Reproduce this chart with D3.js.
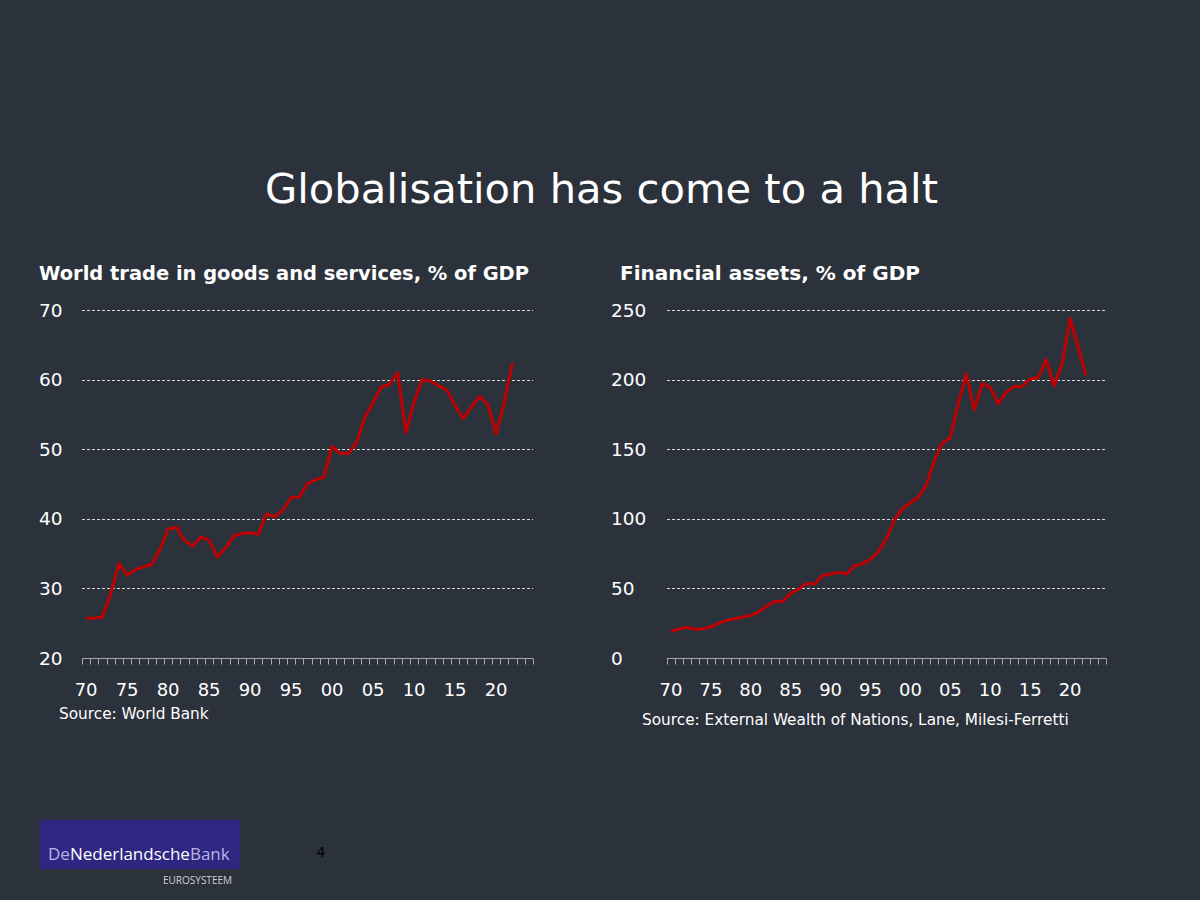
<!DOCTYPE html>
<html>
<head>
<meta charset="utf-8">
<script src="https://cdn.jsdelivr.net/npm/d3@7"></script>
<style>
  html, body { margin: 0; padding: 0; background: #2c323c; }
  svg { display: block; font-family: "DejaVu Sans", Verdana, sans-serif; }
</style>
</head>
<body>
<svg id="slide" width="1200" height="900"></svg>
<script>
// years on the category axis (Excel style, 1970-2024)
const years = d3.range(1970, 2025);
const yearLabels = ['70', '75', '80', '85', '90', '95', '00', '05', '10', '15', '20'];

// world trade in goods and services, % of GDP (1970-2022)
const tradeValues = [
  25.7, 25.7, 25.9, 29.2, 33.6, 31.9, 32.7, 33.1, 33.4, 35.6,
  38.5, 38.8, 36.9, 36.1, 37.4, 36.9, 34.5, 35.8, 37.5, 37.9,
  38.0, 37.8, 40.7, 40.3, 41.2, 43.1, 43.1, 45.1, 45.6, 46.0,
  50.4, 49.4, 49.4, 51.0, 54.6, 56.7, 58.9, 59.3, 61.0, 52.4,
  56.8, 60.0, 59.8, 59.1, 58.5, 56.3, 54.4, 56.1, 57.6, 56.4,
  52.2, 56.8, 62.4
];

// financial assets, % of GDP (1970-2022)
const assetValues = [
  18.9, 20.8, 22.0, 20.6, 21.0, 22.5, 25.1, 27.0, 28.2, 29.4,
  30.6, 33.2, 37.3, 40.6, 40.6, 46.4, 49.5, 53.6, 53.1, 59.3,
  60.3, 61.5, 60.3, 66.2, 67.7, 71.0, 76.5, 85.9, 99.5, 107.4,
  111.4, 115.7, 124.1, 142.0, 154.5, 158.3, 182.7, 204.2, 178.4, 197.1,
  194.2, 182.7, 191.0, 195.1, 195.1, 200.6, 201.4, 214.5, 195.6, 211.4,
  243.7, 223.8, 203.0
];

const tradeTicks = [20, 30, 40, 50, 60, 70];
const assetTicks = [0, 50, 100, 150, 200, 250];

const svg = d3.select('#slide');
const white = '#ffffff';

svg.append('text')
  .attr('x', 265)
  .attr('y', 203)
  .attr('fill', white)
  .attr('textLength', 673)
  .attr('lengthAdjust', 'spacingAndGlyphs')
  .style('font-size', '41px')
  .text('Globalisation has come to a halt');

const drawPanel = (opts) => {
  const g = svg.append('g');
  const x = d3.scaleBand().domain(years).range([opts.x0, opts.x1]).padding(0);
  const y = d3.scaleLinear().domain(opts.domain).range([658, 310]);

  g.append('text')
    .attr('x', opts.titleX)
    .attr('y', 280)
    .attr('fill', white)
    .attr('textLength', opts.titleW)
    .attr('lengthAdjust', 'spacingAndGlyphs')
    .style('font-size', '19px')
    .style('font-weight', 'bold')
    .text(opts.title);

  // dashed gridlines
  g.append('g')
    .selectAll('line')
    .data(opts.ticks.slice(1))
    .enter().append('line')
    .attr('x1', opts.x0)
    .attr('x2', opts.x1)
    .attr('y1', d => Math.round(y(d)) + 0.5)
    .attr('y2', d => Math.round(y(d)) + 0.5)
    .attr('stroke', '#d8d8d8')
    .attr('stroke-width', 1)
    .attr('stroke-dasharray', '3,2');

  // y tick labels, left aligned
  g.append('g')
    .selectAll('text')
    .data(opts.ticks)
    .enter().append('text')
    .attr('x', opts.labelX)
    .attr('y', d => y(d))
    .attr('dy', '0.36em')
    .attr('fill', white)
    .style('font-size', '18.5px')
    .text(d => d);

  // x axis line with tick marks between categories
  const axisY = Math.round(y(opts.domain[0])) + 0.5;
  g.append('line')
    .attr('x1', opts.x0)
    .attr('x2', opts.x1)
    .attr('y1', axisY)
    .attr('y2', axisY)
    .attr('stroke', '#a6a6a6');
  const edges = years.map(d => x(d)).concat([x.range()[1]]);
  g.append('g')
    .selectAll('line')
    .data(edges)
    .enter().append('line')
    .attr('x1', d => Math.round(d) + 0.5)
    .attr('x2', d => Math.round(d) + 0.5)
    .attr('y1', axisY)
    .attr('y2', axisY + 6)
    .attr('stroke', '#a6a6a6');

  g.append('g')
    .selectAll('text')
    .data(years.filter(d => d % 5 === 0 && d <= 2020))
    .enter().append('text')
    .attr('x', d => x(d) + x.bandwidth() / 2)
    .attr('y', 696)
    .attr('text-anchor', 'middle')
    .attr('fill', white)
    .style('font-size', '18px')
    .text((d, i) => yearLabels[i]);

  g.append('path')
    .datum(opts.values)
    .attr('fill', 'none')
    .attr('stroke', '#c00000')
    .attr('stroke-width', 3)
    .attr('stroke-linejoin', 'round')
    .attr('d', d3.line()
      .x((d, i) => x(years[i]) + x.bandwidth() / 2)
      .y(d => y(d)));

  g.append('text')
    .attr('x', opts.sourceX)
    .attr('y', opts.sourceY)
    .attr('fill', white)
    .style('font-size', '15.3px')
    .text(opts.source);
};

drawPanel({
  x0: 82, x1: 533, domain: [20, 70], ticks: tradeTicks, values: tradeValues,
  title: 'World trade in goods and services, % of GDP', titleX: 39, titleW: 490, labelX: 39,
  source: 'Source: World Bank', sourceX: 59, sourceY: 719
});

drawPanel({
  x0: 667, x1: 1106, domain: [0, 250], ticks: assetTicks, values: assetValues,
  title: 'Financial assets, % of GDP', titleX: 620, titleW: 300, labelX: 611,
  source: 'Source: External Wealth of Nations, Lane, Milesi-Ferretti', sourceX: 642, sourceY: 725
});

// logo block
const logo = svg.append('g');
logo.append('rect')
  .attr('x', 40).attr('y', 820)
  .attr('width', 200).attr('height', 49)
  .attr('fill', '#2e2680');
const logoText = logo.append('text')
  .attr('x', 48).attr('y', 860)
  .style('font-size', '17px')
  .style('font-family', '"Open Sans", sans-serif');
logoText.append('tspan').attr('fill', '#b8b4e6').text('De');
logoText.append('tspan').attr('fill', white).text('Nederlandsche');
logoText.append('tspan').attr('fill', '#b8b4e6').text('Bank');
logo.append('text')
  .attr('x', 232).attr('y', 884)
  .attr('text-anchor', 'end')
  .attr('fill', '#d0d0d0')
  .style('font-size', '10px')
  .style('font-family', '"Open Sans", sans-serif')
  .text('EUROSYSTEEM');

svg.append('text')
  .attr('x', 321).attr('y', 857)
  .attr('text-anchor', 'middle')
  .attr('fill', '#000000')
  .style('font-size', '14px')
  .text('4');
</script>
</body>
</html>
